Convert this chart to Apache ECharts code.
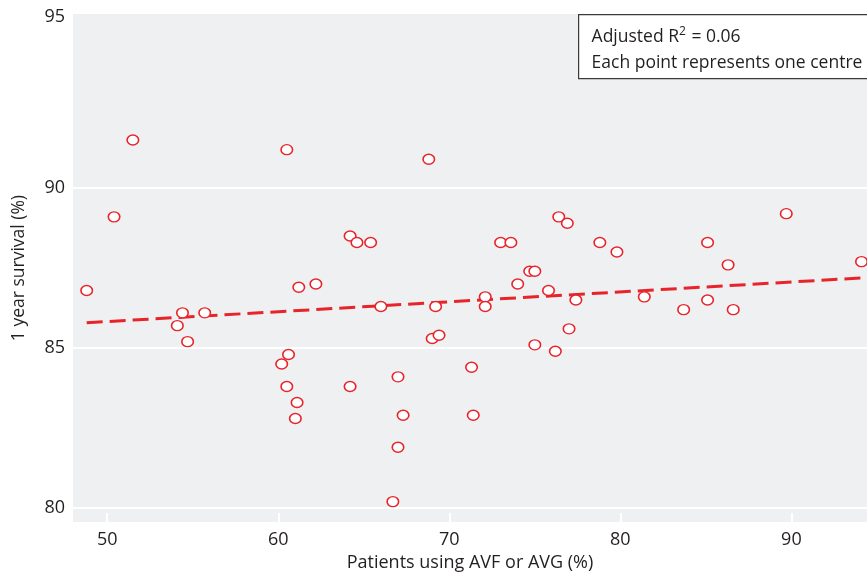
<!DOCTYPE html>
<html><head><meta charset="utf-8">
<script src="https://cdn.jsdelivr.net/npm/echarts@6/dist/echarts.min.js"></script>
<style>html,body{margin:0;padding:0;background:#fff}#c{width:867px;height:577px}</style>
</head><body><div id="c"></div>
<script>
// Percentage of patients using AVF or AVG, per centre
const avfPct = [48.8, 50.4, 51.5, 60.5, 54.4, 54.1, 54.7, 55.7, 61.2, 60.6, 60.2, 60.5, 61.1, 61.0,
  68.8, 62.2, 64.2, 64.6, 65.4, 66.0, 67.0, 69.0, 69.4, 69.2, 71.3, 72.1, 72.1, 73.0, 73.6, 74.0,
  74.7, 75.0, 75.0, 75.8, 76.2, 76.4, 76.9, 77.0, 77.4, 64.2, 67.3, 71.4, 67.0, 66.7,
  78.8, 79.8, 81.4, 83.7, 85.1, 85.1, 86.3, 86.6, 89.7, 94.1];
// One year survival (%), per centre
const survival = [86.8, 89.1, 91.5, 91.2, 86.1, 85.7, 85.2, 86.1, 86.9, 84.8, 84.5, 83.8, 83.3, 82.8,
  90.9, 87.0, 88.5, 88.3, 88.3, 86.3, 84.1, 85.3, 85.4, 86.3, 84.4, 86.6, 86.3, 88.3, 88.3, 87.0,
  87.4, 87.4, 85.1, 86.8, 84.9, 89.1, 88.9, 85.6, 86.5, 83.8, 82.9, 82.9, 81.9, 80.2,
  88.3, 88.0, 86.6, 86.2, 88.3, 86.5, 87.6, 86.2, 89.2, 87.7];
// Fitted regression line end points
const fitX = [48.8, 94.1];
const fitY = [85.79, 87.19];
// Axis ticks
const xTicks = [50, 60, 70, 80, 90];
const yTicks = [80, 85, 90, 95];
const yGridLines = [80, 85, 90];
const annotR2 = '0.06';

const RED = '#e8242b';
const TXT = '#231f20';
const FONT = 'Open Sans';

const chart = echarts.init(document.getElementById('c'));
chart.setOption({
  animation: false,
  grid: {left: 73, right: 0, top: 14, bottom: 53, show: true, backgroundColor: '#eff0f2', borderWidth: 0},
  xAxis: {
    type: 'value', min: 48, max: 94.42,
    axisLine: {show: false},
    splitLine: {show: false},
    axisTick: {show: true, inside: true, length: 9, customValues: xTicks, lineStyle: {color: '#ffffff', width: 2}},
    axisLabel: {customValues: xTicks, margin: 9, color: TXT, fontFamily: FONT, fontSize: 18},
    name: 'Patients using AVF or AVG (%)', nameLocation: 'middle', nameGap: 31,
    nameTextStyle: {color: TXT, fontFamily: FONT, fontSize: 18}
  },
  yAxis: {
    type: 'value', min: 79.56, max: 95.44,
    axisLine: {show: false},
    splitLine: {show: false},
    axisTick: {show: false},
    axisLabel: {
      customValues: yTicks, margin: 8, color: TXT, fontFamily: FONT, fontSize: 18,
      formatter: v => v === 95 ? '{t|95}' : String(v),
      rich: {t: {color: TXT, fontFamily: FONT, fontSize: 18, padding: [0, 0, 22, 0]}}
    },
    name: '1 year survival (%)', nameLocation: 'middle', nameGap: 45,
    nameTextStyle: {color: TXT, fontFamily: FONT, fontSize: 17.5}
  },
  series: [
    {
      type: 'line', data: fitX.map((x, i) => [x, fitY[i]]), symbol: 'none', z: 3,
      lineStyle: {color: RED, width: 3, type: [16, 7]},
      markLine: {
        silent: true, symbol: 'none', label: {show: false}, z: 1,
        lineStyle: {color: '#ffffff', width: 2, type: 'solid'},
        data: yGridLines.map(v => ({yAxis: v}))
      }
    },
    {
      type: 'scatter', data: avfPct.map((x, i) => [x, survival[i]]), z: 4,
      symbol: 'circle', symbolSize: [11.5, 10],
      itemStyle: {color: '#ffffff', borderColor: RED, borderWidth: 1.5, opacity: 1}
    }
  ],
  graphic: [{
    type: 'group', left: 578, top: 14, children: [
      {type: 'rect', shape: {x: 0, y: 0, width: 300, height: 64}, style: {fill: '#ffffff', stroke: '#3a3a3a', lineWidth: 1.2}},
      {type: 'text', x: 13, y: 9, style: {
        text: '{a|Adjusted R}{s|2}{a| = ' + annotR2 + '}\n{a|Each point represents one centre}',
        rich: {
          a: {fontFamily: FONT, fontSize: 17.5, fill: TXT, lineHeight: 26},
          s: {fontFamily: FONT, fontSize: 12, fill: TXT, lineHeight: 26, padding: [0, 1, 10, 0]}
        }
      }}
    ]
  }]
});
</script></body></html>
